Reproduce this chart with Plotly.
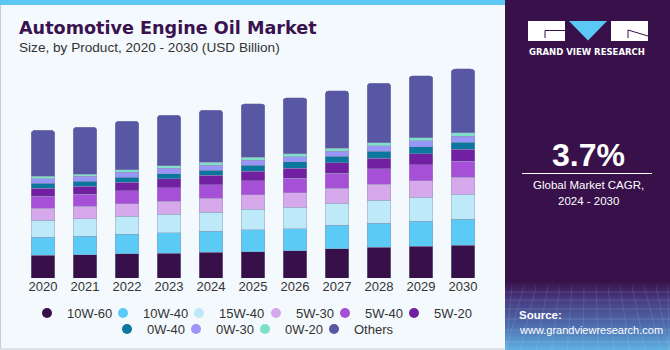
import plotly.graph_objects as go

years = ["2020", "2021", "2022", "2023", "2024", "2025", "2026", "2027", "2028", "2029", "2030"]
series_names = ["10W-60", "10W-40", "15W-40", "5W-30", "5W-40", "5W-20", "0W-40", "0W-30", "0W-20", "Others"]

v_10w60 = [5.75, 5.90, 6.15, 6.33, 6.58, 6.66, 6.91, 7.42, 7.77, 8.03, 8.28]
v_10w40 = [4.56, 4.63, 4.89, 5.14, 5.24, 5.57, 5.57, 6.00, 6.15, 6.33, 6.66]
v_15w40 = [4.30, 4.48, 4.56, 4.63, 4.89, 5.14, 5.39, 5.49, 5.75, 6.08, 6.25]
v_5w30 = [3.04, 3.11, 3.22, 3.37, 3.47, 3.72, 3.72, 3.87, 4.13, 4.23, 4.30]
v_5w40 = [3.04, 3.04, 3.29, 3.37, 3.47, 3.54, 3.72, 3.80, 3.87, 4.05, 4.13]
v_5w20 = [2.03, 2.03, 2.10, 2.28, 2.35, 2.46, 2.46, 2.61, 2.61, 2.79, 2.96]
v_0w40 = [1.27, 1.34, 1.34, 1.34, 1.34, 1.44, 1.70, 1.70, 1.77, 1.70, 1.77]
v_0w30 = [1.09, 1.19, 1.19, 1.27, 1.27, 1.27, 1.27, 1.19, 1.44, 1.52, 1.52]
v_0w20 = [0.68, 0.58, 0.68, 0.68, 0.76, 0.76, 0.76, 0.84, 0.76, 0.76, 0.94]
v_others = [11.65, 11.90, 12.33, 12.84, 13.17, 13.60, 14.18, 14.51, 15.12, 15.77, 16.13]

series_values = [v_10w60, v_10w40, v_15w40, v_5w30, v_5w40, v_5w20, v_0w40, v_0w30, v_0w20, v_others]
series_colors = ["#37104A", "#5BCBF5", "#BDE9F9", "#D6A8EC", "#A650D8",
                 "#7020A0", "#0B779E", "#9A95F8", "#7DE0C8", "#5757A3"]
legend_groups = ["legend", "legend", "legend", "legend2", "legend2", "legend2",
                 "legend3", "legend3", "legend3", "legend3"]

highlight_year = "2023"
highlight_label = "$41.2B"
cagr_text = "3.7%"

W, H = 670, 350
L, R, T, B = 22, 186, 60, 72
PW, PH = W - L - R, H - T - B


def fx(px):
    return (px - L) / PW


def fy(py):
    return (H - B - py) / PH


fig = go.Figure()
for name, vals, col in zip(series_names, series_values, series_colors):
    fig.add_trace(go.Bar(
        x=years, y=vals, name=name, showlegend=False,
        marker=dict(color=col, line=dict(color="rgba(150,150,185,0.55)", width=0.8)),
        hoverinfo="x+y+name",
    ))
# legend entries with circular markers
for name, col, lg in zip(series_names, series_colors, legend_groups):
    fig.add_trace(go.Scatter(
        x=[None], y=[None], mode="markers", name=name, legend=lg, showlegend=True,
        marker=dict(color=col, size=10, symbol="circle"), hoverinfo="skip",
    ))
# blank trailing entries so the last label of each legend row is not clipped
for lg in ["legend", "legend2", "legend3"]:
    fig.add_trace(go.Scatter(
        x=[None], y=[None], mode="markers", name=" ", legend=lg, showlegend=True,
        marker=dict(color="rgba(0,0,0,0)", size=1), hoverinfo="skip",
    ))

totals = [sum(s[i] for s in series_values) for i in range(len(years))]
hi = years.index(highlight_year)

shapes = []
shapes.append(dict(type="rect", xref="paper", yref="paper", layer="below",
                   x0=fx(0.5), x1=fx(512), y0=fy(349), y1=fy(0),
                   line=dict(color="#C9CDD2", width=1), fillcolor="#F4F9FD"))
shapes.append(dict(type="rect", xref="paper", yref="paper", layer="below",
                   x0=fx(0), x1=fx(506), y0=fy(5), y1=fy(0),
                   line=dict(width=0), fillcolor="#5DC6F2"))
shapes.append(dict(type="rect", xref="paper", yref="paper", layer="below",
                   x0=fx(505), x1=fx(670), y0=fy(350), y1=fy(0),
                   line=dict(width=0), fillcolor="#38114A"))


def lerp(c1, c2, t):
    return "#%02x%02x%02x" % tuple(int(round(a + (b - a) * t)) for a, b in zip(c1, c2))


stops = [(280, (56, 17, 74)), (300, (72, 62, 132)), (325, (78, 110, 175)), (350, (95, 180, 228))]
for y in range(280, 350, 2):
    c = None
    for (ya, ca), (yb, cb) in zip(stops[:-1], stops[1:]):
        if ya <= y < yb:
            c = lerp(ca, cb, (y - ya) / (yb - ya))
    shapes.append(dict(type="rect", xref="paper", yref="paper", layer="below",
                       x0=fx(505), x1=fx(670), y0=fy(y + 2), y1=fy(y),
                       line=dict(width=0), fillcolor=c))
for y in [292, 300, 309, 319, 330, 342]:
    shapes.append(dict(type="line", xref="paper", yref="paper", layer="below",
                       x0=fx(505), x1=fx(670), y0=fy(y), y1=fy(y),
                       line=dict(color="rgba(255,255,255,0.12)", width=1)))
for x in range(512, 670, 12):
    shapes.append(dict(type="line", xref="paper", yref="paper", layer="below",
                       x0=fx(x), x1=fx(min(669, max(506, x + (x - 588) * 0.3))), y0=fy(286), y1=fy(350),
                       line=dict(color="rgba(255,255,255,0.10)", width=1)))

shapes.append(dict(type="rect", xref="paper", yref="paper",
                   x0=fx(528), x1=fx(565), y0=fy(41), y1=fy(21),
                   line=dict(width=0), fillcolor="white"))
shapes.append(dict(type="path", xref="paper", yref="paper",
                   path="M %f %f L %f %f L %f %f" % (fx(565), fy(30.5), fx(545), fy(30.5), fx(545), fy(38)),
                   line=dict(color="#38114A", width=1)))
shapes.append(dict(type="path", xref="paper", yref="paper",
                   path="M %f %f L %f %f L %f %f Z" % (fx(569), fy(21), fx(607), fy(21), fx(588), fy(40.5)),
                   line=dict(width=0), fillcolor="#5BC8F5"))
shapes.append(dict(type="rect", xref="paper", yref="paper",
                   x0=fx(611), x1=fx(648), y0=fy(41), y1=fy(21),
                   line=dict(width=0), fillcolor="white"))
shapes.append(dict(type="path", xref="paper", yref="paper",
                   path="M %f %f L %f %f L %f %f" % (fx(628), fy(38), fx(628), fy(30), fx(648), fy(36)),
                   line=dict(color="#38114A", width=1)))
shapes.append(dict(type="line", xref="paper", yref="paper",
                   x0=fx(522), x1=fx(652), y0=fy(173.5), y1=fy(173.5),
                   line=dict(color="white", width=1)))

annotations = [
    dict(text="<b>Automotive Engine Oil Market</b>", x=fx(17), y=fy(28), xref="paper", yref="paper",
         xanchor="left", yanchor="middle", showarrow=False,
         font=dict(family="DejaVu Sans", size=17.6, color="#3A1250")),
    dict(text="Size, by Product, 2020 - 2030 (USD Billion)", x=fx(17), y=fy(47.5), xref="paper", yref="paper",
         xanchor="left", yanchor="middle", showarrow=False,
         font=dict(family="Liberation Sans", size=13.6, color="#333333")),
    dict(text=highlight_label, x=highlight_year, y=totals[hi], xref="x", yref="y",
         xanchor="center", yanchor="bottom", yshift=6, showarrow=False,
         font=dict(family="Liberation Sans", size=14, color="#333333")),
    dict(text="<b>GRAND VIEW RESEARCH</b>", x=fx(587), y=fy(51.5), xref="paper", yref="paper",
         xanchor="center", yanchor="middle", showarrow=False,
         font=dict(family="DejaVu Sans", size=8.5, color="white")),
    dict(text="<b>" + cagr_text + "</b>", x=fx(588), y=fy(155), xref="paper", yref="paper",
         xanchor="center", yanchor="middle", showarrow=False,
         font=dict(family="Liberation Sans", size=32, color="white")),
    dict(text="Global Market CAGR,", x=fx(588), y=fy(185), xref="paper", yref="paper",
         xanchor="center", yanchor="middle", showarrow=False,
         font=dict(family="Liberation Sans", size=11.5, color="white")),
    dict(text="2024 - 2030", x=fx(588), y=fy(201), xref="paper", yref="paper",
         xanchor="center", yanchor="middle", showarrow=False,
         font=dict(family="Liberation Sans", size=11.5, color="white")),
    dict(text="<b>Source:</b>", x=fx(517), y=fy(315), xref="paper", yref="paper",
         xanchor="left", yanchor="middle", showarrow=False,
         font=dict(family="Liberation Sans", size=11.5, color="white")),
    dict(text="www.grandviewresearch.com", x=fx(517), y=fy(330), xref="paper", yref="paper",
         xanchor="left", yanchor="middle", showarrow=False,
         font=dict(family="Liberation Sans", size=11, color="white")),
]

legend_font = dict(family="Liberation Sans", size=13, color="#333333")
leg_common = dict(orientation="h", xanchor="left", yanchor="middle", font=legend_font,
                  bgcolor="rgba(0,0,0,0)", borderwidth=0, entrywidthmode="pixels",
                  itemclick=False, itemdoubleclick=False, tracegroupgap=0, traceorder="normal")

fig.update_layout(
    width=W, height=H, autosize=False,
    margin=dict(l=L, r=R, t=T, b=B, pad=0, autoexpand=False),
    paper_bgcolor="#F4F9FD", plot_bgcolor="rgba(0,0,0,0)",
    barmode="stack", bargap=0.43, barcornerradius=4,
    showlegend=True,
    legend=dict(x=fx(27), y=fy(313), entrywidth=31, **leg_common),
    legend2=dict(x=fx(256), y=fy(313), entrywidth=24, **leg_common),
    legend3=dict(x=fx(107), y=fy(329), entrywidth=24, **leg_common),
    xaxis=dict(type="category", range=[-0.5, 10.5], showgrid=False, zeroline=False, showline=False,
               ticks="", ticklabelstandoff=-1,
               tickfont=dict(family="Liberation Sans", size=13, color="#333333"),
               fixedrange=True, automargin=False),
    yaxis=dict(range=[0, PH * 41.2 / 162.7], visible=False, fixedrange=True, automargin=False),
    shapes=shapes, annotations=annotations,
    font=dict(family="Liberation Sans"),
)

fig.write_html("out.html")
